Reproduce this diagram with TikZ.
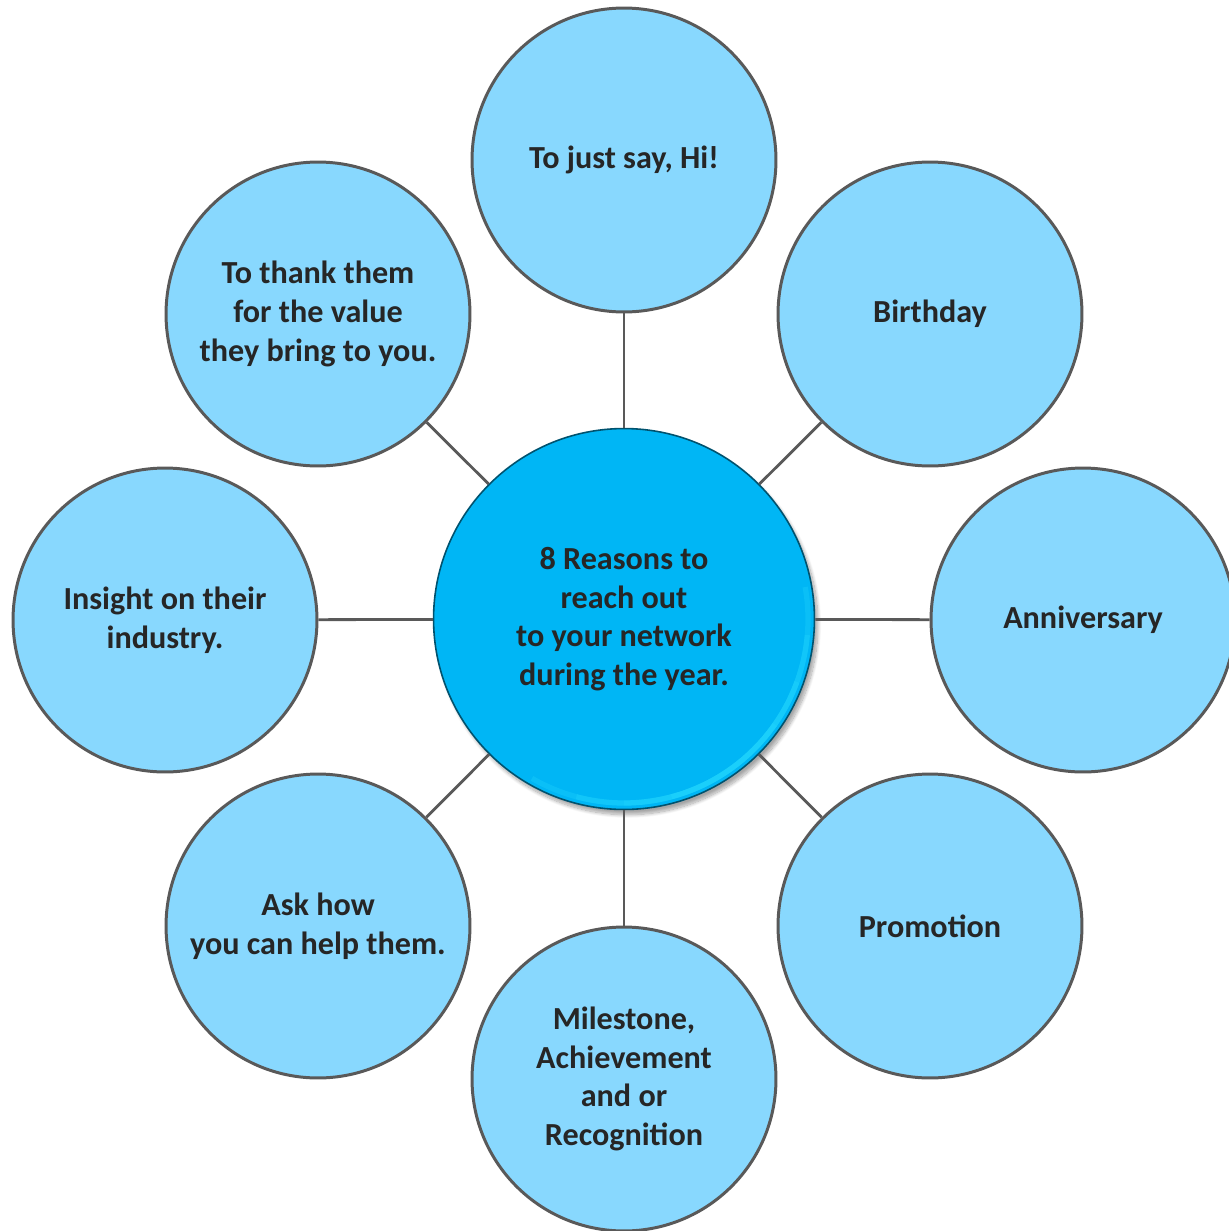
\documentclass[tikz,border=0pt]{standalone}
\usepackage{fontspec}
\setmainfont{Carlito}
\usepackage{tikz}
\usetikzlibrary{shadows.blur}

\definecolor{petal}{RGB}{136,216,254}
\definecolor{hubblue}{RGB}{0,182,245}
\definecolor{gloss}{RGB}{40,220,255}
\definecolor{rim}{RGB}{89,89,89}
\definecolor{ink}{RGB}{38,38,38}

\begin{document}
\begin{tikzpicture}[x=0.02cm,y=-0.02cm,
  every node/.style={font=\bfseries\fontsize{18.3}{22}\selectfont,align=center,text=ink},
  petal/.style={circle,draw=rim,line width=1.7pt,fill=petal,minimum size=6.08cm,inner sep=0pt},
  hub/.style={circle,draw=hubblue!45!black,line width=0.9pt,fill=hubblue,minimum size=7.62cm,inner sep=0pt,
    blur shadow={shadow xshift=2pt,shadow yshift=-3pt,shadow blur steps=12,shadow opacity=35}},
  spoke/.style={draw=rim,line width=1.6pt}]
\useasboundingbox (0,0) rectangle (1228,1231);
\node[petal] (hi) at (624,160) {To just say, Hi!};
\node[petal] (bday) at (930,314) {Birthday};
\node[petal] (anniv) at (1083,620) {Anniversary};
\node[petal] (promo) at (930,926) {Promotion};
\node[petal] (miles) at (624,1079) {Milestone,\\Achievement\\and or\\Recognition};
\node[petal] (help) at (318,926) {Ask how\\you can help them.};
\node[petal] (insight) at (165,620) {Insight on their\\industry.};
\node[petal] (thanks) at (318,314) {To thank them\\for the value\\they bring to you.};
\node[hub] (hub) at (624,619) {8 Reasons to\\reach out\\to your network\\during the year.};
\foreach \n in {hi,bday,anniv,promo,miles,help,insight,thanks}
  \draw[spoke] (hub) -- (\n);
% glossy band just inside the hub rim, strongest at lower right
\foreach \a/\b in {-10/120,5/105,20/90,35/75}
  \draw[gloss,line width=3pt,opacity=0.25] (hub.center) ++(\a:184) arc (\a:\b:184);
\end{tikzpicture}
\end{document}
